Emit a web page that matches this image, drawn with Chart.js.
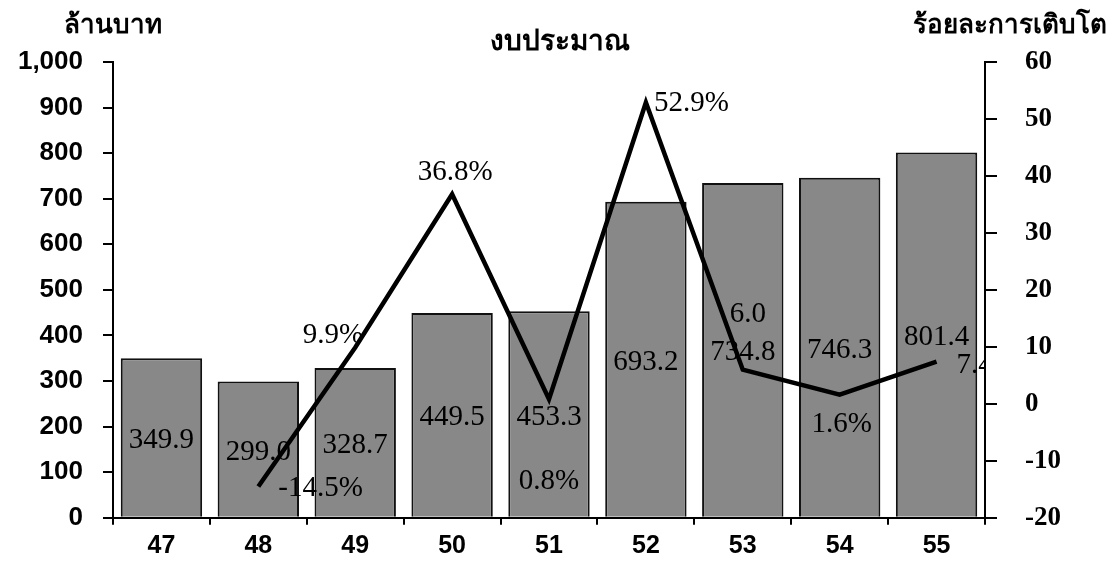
<!DOCTYPE html>
<html>
<head>
<meta charset="utf-8">
<script src="https://cdn.jsdelivr.net/npm/chart.js@4.4.0/dist/chart.umd.min.js"></script>
<style>
  html, body { margin: 0; padding: 0; background: #fff; }
  #wrap { width: 1111px; height: 562px; position: relative; }
</style>
</head>
<body>
<div id="wrap"><canvas id="budgetChart"></canvas></div>
<script>
// Data
const years = ['47', '48', '49', '50', '51', '52', '53', '54', '55'];
const budget = [349.9, 299.0, 328.7, 449.5, 453.3, 693.2, 734.8, 746.3, 801.4];
const growth = [null, -14.5, 9.9, 36.8, 0.8, 52.9, 6.0, 1.6, 7.4];
const growthText = ['', '-14.5%', '9.9%', '36.8%', '0.8%', '52.9%', '6.0', '1.6%', '7.4%'];

const thaiFont = "'Noto Sans', 'DejaVu Sans', sans-serif";
const serifFont = "'Liberation Serif', 'Times New Roman', serif";

// where each growth label sits relative to its point: [dx, dy, align]
const growthLabelPos = [
    [0, 0, 'center'],
    [20, 2, 'left'],
    [8, -12, 'right'],
    [3, -22, 'center'],
    [0, 82, 'center'],
    [8, 1, 'left'],
    [5, -55, 'center'],
    [2, 30, 'center'],
    [20, 4, 'left']
];

// Draws the bar values (under the line) and the growth labels (on top)
const labelPlugin = {
    id: 'valueLabels',
    afterDatasetDraw(chart, args) {
        if (args.index !== 1) return;
        const ctx = chart.ctx;
        const meta = chart.getDatasetMeta(1);
        ctx.save();
        ctx.font = "29px " + serifFont;
        ctx.fillStyle = '#000';
        ctx.textAlign = 'center';
        ctx.textBaseline = 'middle';
        meta.data.forEach((bar, i) => {
            const mid = (bar.y + bar.base) / 2;
            ctx.fillText(budget[i].toFixed(1), bar.x, mid + 3);
        });
        ctx.restore();
    },
    afterDatasetsDraw(chart) {
        const ctx = chart.ctx;
        const area = chart.chartArea;
        const meta = chart.getDatasetMeta(0);
        ctx.save();
        ctx.beginPath();
        ctx.rect(0, 0, area.right, chart.height);
        ctx.clip();
        ctx.font = "29px " + serifFont;
        ctx.fillStyle = '#000';
        ctx.textBaseline = 'middle';
        meta.data.forEach((pt, i) => {
            if (growth[i] === null) return;
            const p = growthLabelPos[i];
            ctx.textAlign = p[2];
            ctx.fillText(growthText[i], pt.x + p[0], pt.y + p[1]);
        });
        ctx.restore();

        // titles
        ctx.save();
        ctx.fillStyle = '#000';
        ctx.textBaseline = 'middle';
        ctx.font = "bold 28px " + thaiFont;
        ctx.textAlign = 'center';
        ctx.fillText('งบประมาณ', 560, 42);
        ctx.font = "bold 26px " + thaiFont;
        ctx.textAlign = 'left';
        ctx.fillText('ล้านบาท', 64, 26);
        ctx.textAlign = 'right';
        ctx.fillText('ร้อยละการเติบโต', 1107, 26);
        ctx.restore();
    }
};

const ctx = document.getElementById('budgetChart').getContext('2d');
new Chart(ctx, {
    type: 'bar',
    data: {
        labels: years,
        datasets: [{
            type: 'line',
            label: 'ร้อยละการเติบโต',
            data: growth,
            yAxisID: 'y1',
            borderColor: '#000',
            borderWidth: 4.5,
            pointRadius: 0,
            tension: 0,
            order: 1
        }, {
            type: 'bar',
            label: 'งบประมาณ',
            data: budget,
            yAxisID: 'y',
            backgroundColor: '#888888',
            borderColor: '#111',
            borderWidth: 2,
            categoryPercentage: 1,
            barPercentage: 0.84,
            order: 2
        }]
    },
    options: {
        responsive: true,
        maintainAspectRatio: false,
        animation: false,
        layout: { padding: { top: 62, left: 0, right: 0, bottom: 0 } },
        plugins: {
            legend: { display: false },
            tooltip: { enabled: false }
        },
        scales: {
            x: {
                grid: { drawOnChartArea: false, color: '#000', tickLength: 7, lineWidth: 2 },
                border: { color: '#000', width: 2 },
                ticks: {
                    color: '#000',
                    padding: 6,
                    font: { family: "'Liberation Sans', Arial, sans-serif", size: 25, weight: 'bold' }
                },
                afterFit(scale) { scale.height = 40; }
            },
            y: {
                position: 'left',
                min: 0,
                max: 1000,
                grid: { drawOnChartArea: false, color: '#000', tickLength: 10, lineWidth: 2 },
                border: { color: '#000', width: 2 },
                ticks: {
                    stepSize: 100,
                    color: '#000',
                    padding: 20,
                    font: { family: "'Liberation Sans', Arial, sans-serif", size: 26, weight: 'bold' }
                },
                afterFit(scale) { scale.width = 113; }
            },
            y1: {
                position: 'right',
                min: -20,
                max: 60,
                grid: { drawOnChartArea: false, color: '#000', tickLength: 12, lineWidth: 2 },
                border: { color: '#000', width: 2 },
                ticks: {
                    stepSize: 10,
                    color: '#000',
                    padding: 28,
                    font: { family: serifFont, size: 27, weight: 'bold' }
                },
                afterFit(scale) { scale.width = 126; }
            }
        }
    },
    plugins: [labelPlugin]
});
</script>
</body>
</html>
